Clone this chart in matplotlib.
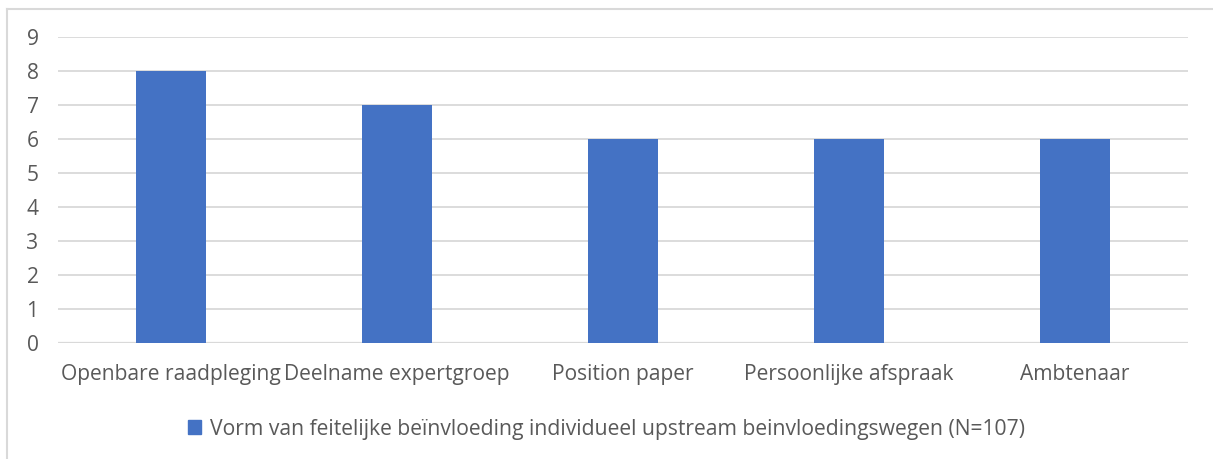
import matplotlib
matplotlib.use('Agg')

import matplotlib.pyplot as plt
import numpy as np
from matplotlib.lines import Line2D

plt.rcParams['font.family'] = ['Open Sans', 'DejaVu Sans']

categories = ['Openbare raadpleging', 'Deelname expertgroep', 'Position paper',
              'Persoonlijke afspraak', 'Ambtenaar']
values = [8, 7, 6, 6, 6]
series_name = 'Vorm van feitelijke beïnvloeding individueel upstream beinvloedingswegen (N=107)'
yticks = list(range(0, 10))

bar_color = '#4472C4'
text_color = '#595959'
grid_color = '#D9D9D9'

fig = plt.figure(figsize=(12.13, 4.59), dpi=100)
ax = fig.add_axes([58 / 1213, 1 - 343 / 459, 1130 / 1213, 306 / 459])

x = np.arange(len(categories))
ax.bar(x, values, width=0.31, color=bar_color, label=series_name, zorder=3)

ax.set_xlim(-0.5, len(categories) - 0.5)
ax.set_ylim(0, 9)
ax.set_yticks(yticks)
ax.set_xticks(x)
ax.set_xticklabels(categories)
ax.grid(axis='y', color=grid_color, linewidth=1.3, zorder=0)
ax.axhline(0, color=grid_color, linewidth=1.6, zorder=2)
for s in ax.spines.values():
    s.set_visible(False)
ax.tick_params(length=0, colors=text_color, labelsize=15.1)
ax.tick_params(axis='x', pad=15)
ax.tick_params(axis='y', pad=14)

handle = [plt.Rectangle((0, 0), 1, 1, color=bar_color)]
fig.legend(handle, [series_name], loc='center', bbox_to_anchor=(0.5, 1 - 429 / 459),
           frameon=False, fontsize=15.2, labelcolor=text_color,
           handlelength=0.6, handleheight=0.6, handletextpad=0.4)

# outer chart border (only top and left visible in the crop)
fig.add_artist(Line2D([7 / 1213, 7 / 1213], [0, 1 - 9 / 459], color=grid_color, linewidth=1.5))
fig.add_artist(Line2D([7 / 1213, 1], [1 - 9 / 459, 1 - 9 / 459], color=grid_color, linewidth=1.5))

fig.savefig('out.png', dpi=100)
plt.close(fig)
